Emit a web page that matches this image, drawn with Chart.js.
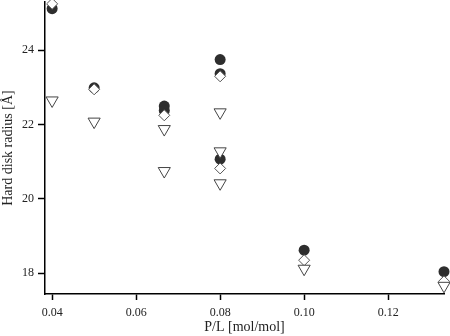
<!DOCTYPE html>
<html>
<head>
<meta charset="utf-8">
<script src="https://cdn.jsdelivr.net/npm/chart.js@4/dist/chart.umd.min.js"></script>
<style>
  body { margin: 0; background: #fff; }
  #wrap { width: 450px; height: 336px; }
</style>
</head>
<body>
<div id="wrap"><canvas id="chart" width="450" height="336"></canvas></div>
<script>
// values
const circleX = [0.04, 0.05, 0.0667, 0.0667, 0.08, 0.08, 0.08, 0.10, 0.1333]
const circleY = [25.12, 22.99, 22.50, 22.38, 23.75, 23.37, 21.07, 18.62, 18.04]
const diamondX = [0.04, 0.05, 0.0667, 0.08, 0.08, 0.10, 0.1333]
const diamondY = [25.25, 22.95, 22.25, 23.30, 20.82, 18.35, 17.78]
const triangleX = [0.04, 0.05, 0.0667, 0.0667, 0.08, 0.08, 0.08, 0.10, 0.1333]
const triangleY = [22.65, 22.08, 21.88, 20.75, 22.33, 21.28, 20.42, 18.12, 17.66]
const xTicks = [0.04, 0.06, 0.08, 0.10, 0.12]
const yTicks = [18, 20, 22, 24]

function pts(xs, ys) {
    return xs.map((x, i) => ({ x: x, y: ys[i] }))
}

const font = "'Liberation Serif', 'DejaVu Serif', serif"
const noPad = () => ({ left: 0, top: 0, right: 0, bottom: 0 })

let ctx = document.getElementById('chart').getContext('2d')
let myChart = new Chart(ctx, {
    type: 'scatter',
    data: {
        datasets: [{
            label: 'triangles',
            data: pts(triangleX, triangleY),
            pointStyle: 'triangle',
            rotation: 180,
            radius: 7,
            backgroundColor: '#ffffff',
            borderColor: '#444444',
            borderWidth: 1,
            clip: false
        }, {
            label: 'diamonds',
            data: pts(diamondX, diamondY),
            pointStyle: 'rectRot',
            radius: 5.5,
            backgroundColor: '#ffffff',
            borderColor: '#555555',
            borderWidth: 1,
            clip: false
        }, {
            label: 'circles',
            data: pts(circleX, circleY),
            pointStyle: 'circle',
            radius: 5.5,
            backgroundColor: '#2e2e2e',
            borderColor: '#2e2e2e',
            borderWidth: 0,
            clip: false
        }]
    },
    options: {
        responsive: false,
        animation: false,
        layout: { autoPadding: false, padding: { top: 2, right: 6, left: 0, bottom: 0 } },
        plugins: {
            legend: { display: false },
            tooltip: { enabled: false }
        },
        scales: {
            x: {
                type: 'linear',
                min: 0.0383,
                max: 0.1333,
                afterBuildTicks: s => { s.ticks = xTicks.map(v => ({ value: v })) },
                afterFit: s => { s.height = 42; s.getPadding = noPad },
                border: { display: true, color: '#000', width: 1.5 },
                grid: { drawOnChartArea: false, tickLength: 6, tickWidth: 1.5, tickColor: '#000' },
                ticks: {
                    color: '#222',
                    padding: 6,
                    maxRotation: 0,
                    font: { family: font, size: 12 },
                    callback: v => v.toFixed(2)
                },
                title: {
                    display: true,
                    text: 'P/L [mol/mol]',
                    color: '#222',
                    padding: { top: 0, bottom: 0 },
                    font: { family: font, size: 14 }
                }
            },
            y: {
                min: 17.44,
                max: 25.3,
                afterBuildTicks: s => { s.ticks = yTicks.map(v => ({ value: v })) },
                afterFit: s => { s.width = 45; s.getPadding = noPad },
                border: { display: true, color: '#000', width: 1.5 },
                grid: { drawOnChartArea: false, tickLength: 7, tickWidth: 1.5, tickColor: '#000' },
                ticks: {
                    color: '#222',
                    padding: 4,
                    font: { family: font, size: 12 },
                    callback: v => String(v)
                },
                title: {
                    display: true,
                    text: 'Hard disk radius [Å]',
                    color: '#222',
                    padding: { top: 0, bottom: 2 },
                    font: { family: font, size: 14 }
                }
            }
        }
    }
})
</script>
</body>
</html>
